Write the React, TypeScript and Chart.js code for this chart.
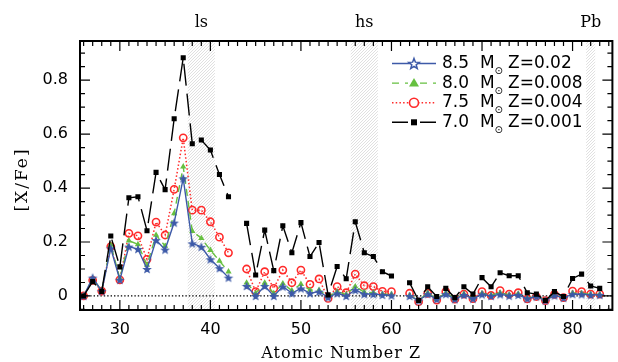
import React, { useEffect, useRef } from 'react';
import { Chart, registerables } from 'chart.js';
Chart.register(...registerables);

// ---- data ----
const atomicZ = [26,27,28,29,30,31,32,33,34,35,36,37,38,39,40,41,42,43,44,45,46,47,48,49,50,51,52,53,54,55,56,57,58,59,60,61,62,63,64,65,66,67,68,69,70,71,72,73,74,75,76,77,78,79,80,81,82,83];
const m85_z002 = [0,0.068,0.018,0.177,0.06,0.183,0.174,0.1,0.207,0.172,0.272,0.436,0.195,0.182,0.136,0.103,0.068,null,0.037,0.0,0.037,0.0,0.035,0.01,0.028,0.01,0.016,-0.005,0.01,0.0,0.022,0.007,0.007,0.004,0.002,null,0.0,-0.017,0.007,-0.012,0.007,-0.012,0.004,-0.01,0.006,0.0,0.006,0.001,0.004,-0.01,-0.002,-0.017,0.002,-0.007,0.007,0.006,0.004,0.004];
const m80_z0008 = [0,0.064,0.02,0.189,0.065,0.205,0.191,0.115,0.226,0.185,0.306,0.479,0.24,0.214,0.17,0.13,0.09,null,0.049,0.01,0.049,0.01,0.046,0.02,0.044,0.022,0.022,-0.003,0.016,0.006,0.035,0.014,0.012,0.007,0.006,null,0.002,-0.017,0.012,-0.012,0.012,-0.01,0.008,-0.008,0.01,0.003,0.012,0.004,0.008,-0.009,0.0,-0.016,0.005,-0.005,0.011,0.01,0.006,0.006];
const m75_z0004 = [0,0.058,0.018,0.183,0.06,0.232,0.223,0.136,0.274,0.226,0.395,0.586,0.318,0.318,0.275,0.218,0.16,null,0.1,0.016,0.09,0.028,0.096,0.049,0.096,0.043,0.063,-0.009,0.035,0.012,0.081,0.038,0.035,0.017,0.016,null,0.01,-0.021,0.01,-0.015,0.016,-0.012,0.007,-0.01,0.016,0.002,0.02,0.007,0.012,-0.011,-0.002,-0.017,0.006,-0.006,0.018,0.016,0.007,0.007];
const m70_z0001 = [0,0.053,0.017,0.222,0.108,0.364,0.368,0.242,0.458,0.394,0.657,0.883,0.564,0.578,0.541,0.45,0.368,null,0.269,0.078,0.244,0.094,0.26,0.16,0.272,0.146,0.198,0.004,0.109,0.064,0.275,0.16,0.146,0.09,0.074,null,0.049,-0.017,0.034,-0.002,0.028,-0.006,0.034,0.007,0.068,0.034,0.086,0.075,0.075,0.012,0.007,-0.017,0.016,-0.002,0.065,0.081,0.037,0.028];

const xTickValues = [30,40,50,60,70,80];
const yTickValues = [0,0.2,0.4,0.6,0.8];
const bandStarts = [37.5,55.5,81.5];
const bandEnds = [40.5,58.5,82.5];
const bandLabels = ['ls','hs','Pb'];
const bandLabelZ = [39,57,82];
const legendMass = ['8.5','8.0','7.5','7.0'];
const legendMetal = ['Z=0.02','Z=0.008','Z=0.004','Z=0.001'];

const BLUE = '#3d5aa8';
const GREEN = '#66c040';
const RED = '#ff2a2a';
const BLACK = '#000000';

function starPath(g: CanvasRenderingContext2D, cx: number, cy: number, r: number) {
  const ri = r * 0.42;
  g.beginPath();
  for (let i = 0; i < 10; i++) {
    const rr = i % 2 === 0 ? r : ri;
    const a = -Math.PI / 2 + (i * Math.PI) / 5;
    const px = cx + rr * Math.cos(a);
    const py = cy + rr * Math.sin(a);
    if (i === 0) g.moveTo(px, py); else g.lineTo(px, py);
  }
  g.closePath();
}

function starCanvas(r: number, color: string, lw: number, fill: boolean) {
  const s = Math.ceil(2 * r + lw * 2 + 2);
  const c = document.createElement('canvas');
  c.width = s; c.height = s;
  const g = c.getContext('2d')!;
  starPath(g, s / 2, s / 2 + 0.5, r);
  g.lineWidth = lw; g.strokeStyle = color; g.lineJoin = 'miter';
  if (fill) { g.fillStyle = color; g.fill(); }
  g.stroke();
  return c;
}

function hatchPattern(ctx: CanvasRenderingContext2D) {
  const c = document.createElement('canvas');
  c.width = 3; c.height = 3;
  const g = c.getContext('2d')!;
  g.fillStyle = '#ffffff'; g.fillRect(0, 0, 3, 3);
  g.strokeStyle = '#dcdcdc'; g.lineWidth = 0.9;
  g.beginPath();
  g.moveTo(0, 3); g.lineTo(3, 0);
  g.moveTo(-1, 1); g.lineTo(1, -1);
  g.moveTo(2, 4); g.lineTo(4, 2);
  g.stroke();
  return ctx.createPattern(c, 'repeat')!;
}

const decorPlugin = {
  id: 'decor',
  beforeDatasetsDraw(chart: any) {
    const { ctx, chartArea: a, scales } = chart;
    const x = scales.x, y = scales.y;
    ctx.save();
    ctx.beginPath(); ctx.rect(a.left, a.top, a.width, a.height); ctx.clip();
    ctx.fillStyle = hatchPattern(ctx);
    for (let i = 0; i < bandStarts.length; i++) {
      const x0 = x.getPixelForValue(bandStarts[i]);
      const x1 = x.getPixelForValue(bandEnds[i]);
      ctx.fillRect(x0, a.top, x1 - x0, a.height);
    }
    const y0 = y.getPixelForValue(0);
    ctx.strokeStyle = '#000'; ctx.lineWidth = 1.2; ctx.setLineDash([1.4, 2]);
    ctx.beginPath(); ctx.moveTo(a.left, y0); ctx.lineTo(a.right, y0); ctx.stroke();
    ctx.restore();
  },
  afterDatasetsDraw(chart: any) {
    const { ctx, chartArea: a, scales } = chart;
    const x = scales.x, y = scales.y;
    ctx.save();
    // ticks on all four sides
    ctx.strokeStyle = '#000'; ctx.lineWidth = 1.2;
    ctx.beginPath();
    for (let v = Math.ceil(x.min); v <= x.max; v++) {
      const px = x.getPixelForValue(v);
      const len = v % 10 === 0 ? 10 : 5;
      ctx.moveTo(px, a.bottom); ctx.lineTo(px, a.bottom - len);
      ctx.moveTo(px, a.top); ctx.lineTo(px, a.top + len);
    }
    for (let k = -1; k <= 19; k++) {
      const v = k * 0.05;
      if (v < y.min || v > y.max) continue;
      const py = y.getPixelForValue(v);
      const len = k % 4 === 0 ? 10 : 5;
      ctx.moveTo(a.left, py); ctx.lineTo(a.left + len, py);
      ctx.moveTo(a.right, py); ctx.lineTo(a.right - len, py);
    }
    ctx.stroke();
    // frame
    ctx.lineWidth = 2;
    ctx.strokeRect(a.left, a.top, a.width, a.height);

    // band labels
    ctx.fillStyle = '#000';
    ctx.font = '16px "DejaVu Serif"';
    ctx.textAlign = 'center'; ctx.textBaseline = 'alphabetic';
    for (let i = 0; i < bandLabels.length; i++) {
      ctx.fillText(bandLabels[i], x.getPixelForValue(bandLabelZ[i]), 27);
    }
    // axis titles
    ctx.font = '16px "DejaVu Serif"';
    (ctx as any).letterSpacing = '1px';
    ctx.fillText('Atomic Number Z', (a.left + a.right) / 2 - 5, 358);
    ctx.save();
    ctx.translate(27, (a.top + a.bottom) / 2 + 4);
    ctx.rotate(-Math.PI / 2);
    (ctx as any).letterSpacing = '2px';
    ctx.font = '17px "DejaVu Serif"';
    ctx.fillText('[X/Fe]', 0, 0);
    ctx.restore();
    (ctx as any).letterSpacing = '0px';

    // legend
    const ds = chart.data.datasets;
    for (let i = 0; i < 4; i++) {
      const d = ds[i];
      const ly = 63.5 + i * 19.6;
      const lx0 = 392, lx1 = 436, mx = 414;
      ctx.save();
      ctx.strokeStyle = d.borderColor; ctx.lineWidth = d.borderWidth;
      ctx.setLineDash(i === 0 ? [] : i === 1 ? [7, 6] : i === 2 ? [1.5, 2.2] : []);
      ctx.beginPath();
      if (i === 3 || i === 1) {
        ctx.moveTo(lx0, ly); ctx.lineTo(mx - 6, ly);
        ctx.moveTo(mx + 6, ly); ctx.lineTo(lx1, ly);
      } else {
        ctx.moveTo(lx0, ly); ctx.lineTo(lx1, ly);
      }
      ctx.stroke();
      ctx.setLineDash([]);
      // markers
      if (i === 0) {
        ctx.fillStyle = '#fff';
        starPath(ctx, mx, ly + 0.5, 5.5); ctx.fill();
        ctx.lineWidth = 1.5; ctx.strokeStyle = BLUE; ctx.stroke();
      } else if (i === 1) {
        ctx.fillStyle = GREEN; ctx.beginPath();
        ctx.moveTo(mx, ly - 5); ctx.lineTo(mx + 5, ly + 3.5); ctx.lineTo(mx - 5, ly + 3.5); ctx.closePath(); ctx.fill();
      } else if (i === 2) {
        ctx.fillStyle = '#fff'; ctx.strokeStyle = RED; ctx.lineWidth = 1.6;
        ctx.beginPath(); ctx.arc(mx, ly, 4.5, 0, Math.PI * 2); ctx.fill(); ctx.stroke();
      } else {
        ctx.fillStyle = BLACK; ctx.fillRect(mx - 3, ly - 3, 6, 6);
      }
      ctx.restore();
      ctx.fillStyle = '#000';
      ctx.textAlign = 'left'; ctx.textBaseline = 'middle';
      ctx.font = '17px "DejaVu Sans"';
      ctx.fillText(legendMass[i], 442, ly);
      ctx.fillText('M', 480, ly);
      ctx.fillText(legendMetal[i], 508, ly);
      ctx.font = '10px "DejaVu Sans"';
      ctx.fillText('\u2299', 494.5, ly + 8);
    }
    ctx.restore();
  },
};

export default function App() {
  const ref = useRef<HTMLCanvasElement | null>(null);
  useEffect(() => {
    document.body.style.margin = '0';
    const canvas = ref.current!;
    const mk = (arr: (number | null)[]) => atomicZ.map((z, i) => ({ x: z, y: arr[i] }));
    const chart = new Chart(canvas, {
      type: 'line',
      data: {
        datasets: [
          {
            label: '8.5 Msun Z=0.02', data: mk(m85_z002) as any,
            borderColor: BLUE, backgroundColor: BLUE, borderWidth: 1.4,
            pointStyle: starCanvas(3.5, BLUE, 1.1, true) as any, pointRadius: 4,
            order: 2,
          },
          {
            label: '8.0 Msun Z=0.008', data: mk(m80_z0008) as any,
            borderColor: GREEN, backgroundColor: GREEN, borderWidth: 1.4, borderDash: [7, 5],
            pointStyle: 'triangle', pointRadius: 3.6, pointBorderWidth: 0,
            order: 3,
          },
          {
            label: '7.5 Msun Z=0.004', data: mk(m75_z0004) as any,
            borderColor: RED, backgroundColor: 'rgba(255,255,255,0)', borderWidth: 1.5, borderDash: [1.5, 2.2],
            pointStyle: 'circle', pointRadius: 3.6, pointBorderWidth: 1.6,
            order: 4,
          },
          {
            label: '7.0 Msun Z=0.001', data: mk(m70_z0001) as any,
            borderColor: BLACK, backgroundColor: BLACK, borderWidth: 1.4, borderDash: [22, 8],
            pointStyle: 'rect', pointRadius: 3.6, pointBorderWidth: 0,
            order: 1,
          },
        ],
      },
      options: {
        responsive: false,
        animation: false,
        spanGaps: false,
        layout: { padding: { top: 41, right: 1, left: 0, bottom: 0 } },
        plugins: { legend: { display: false }, tooltip: { enabled: false } },
        elements: { line: { tension: 0 } },
        scales: {
          x: {
            type: 'linear', min: 25.6, max: 84.4,
            grid: { display: false, drawTicks: false },
            border: { display: false },
            afterBuildTicks: (s: any) => { s.ticks = xTickValues.map((v) => ({ value: v })); },
            afterFit: (s: any) => { s.height = 52; },
            ticks: {
              padding: 10, maxRotation: 0, autoSkip: false, color: '#000',
              font: { family: '"DejaVu Sans"', size: 16 },
              callback: (v: any) => String(v),
            },
          },
          y: {
            type: 'linear', min: -0.052, max: 0.945,
            grid: { display: false, drawTicks: false },
            border: { display: false },
            afterBuildTicks: (s: any) => { s.ticks = yTickValues.map((v) => ({ value: v })); },
            afterFit: (s: any) => { s.width = 80; },
            ticks: {
              padding: 12, color: '#000',
              font: { family: '"DejaVu Sans"', size: 16 },
              callback: (v: any) => (Number(v) === 0 ? '0' : Number(v).toFixed(1)),
            },
          },
        },
      },
      plugins: [decorPlugin],
    });
    return () => chart.destroy();
  }, []);
  return (
    <div style={{ position: 'absolute', left: 0, top: 0, width: 618, height: 362, background: '#fff' }}>
      <canvas ref={ref} width={618} height={362} style={{ display: 'block' }} />
    </div>
  );
}
